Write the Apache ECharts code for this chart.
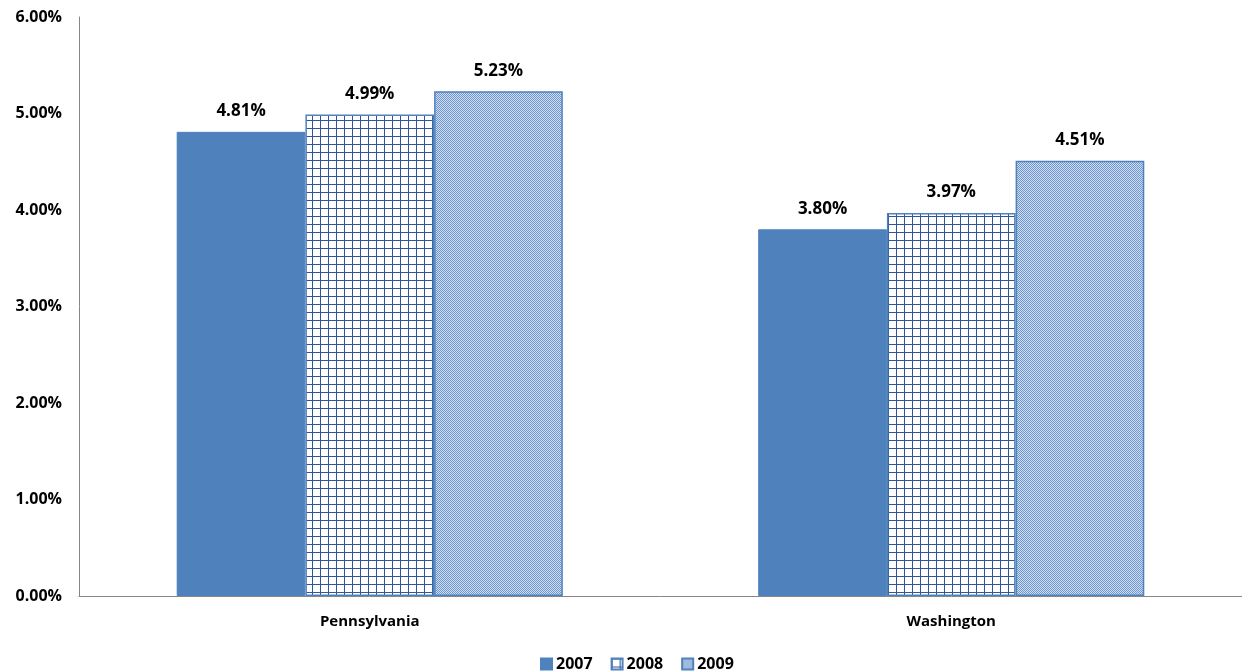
<!DOCTYPE html>
<html>
<head>
<meta charset="utf-8">
<script src="https://cdn.jsdelivr.net/npm/echarts@6/dist/echarts.min.js"></script>
<style>
html, body { margin: 0; padding: 0; background: #fff; }
#main { width: 1242px; height: 672px; }
</style>
</head>
<body>
<div id="main"></div>
<script>
// 数据
var categories = ['Pennsylvania', 'Washington'];
var years = ['2007', '2008', '2009'];
var v2007 = [4.81, 3.80];
var v2008 = [4.99, 3.97];
var v2009 = [5.23, 4.51];

var FONT = '"Open Sans"';

// 2008 方格图案
function gridPattern() {
	var c = document.createElement('canvas');
	c.width = 8; c.height = 8;
	var ctx = c.getContext('2d');
	ctx.fillStyle = '#ffffff';
	ctx.fillRect(0, 0, 8, 8);
	ctx.fillStyle = '#2F5597';
	ctx.fillRect(0, 0, 8, 1);
	ctx.fillRect(0, 0, 1, 8);
	return c;
}
// 2009 细格纹图案
function checkPattern() {
	var c = document.createElement('canvas');
	c.width = 2; c.height = 2;
	var ctx = c.getContext('2d');
	ctx.fillStyle = '#D0DDF0';
	ctx.fillRect(0, 0, 2, 2);
	ctx.fillStyle = '#7096CE';
	ctx.fillRect(0, 0, 1, 1);
	ctx.fillRect(1, 1, 1, 1);
	return c;
}

var myChart = echarts.init(document.getElementById('main'));
var labelCfg = {
	show: true,
	position: 'top',
	distance: 12,
	color: '#000',
	fontWeight: 'bold',
	fontSize: 17,
	fontFamily: FONT,
	formatter: function (p) { return p.value.toFixed(2) + '%'; }
};

var option = {
	animation: false,
	legend: {
		data: years,
		top: 651,
		left: 535,
		icon: 'rect',
		itemWidth: 11,
		itemHeight: 11,
		itemGap: 18,
		textStyle: { fontSize: 16, fontWeight: 'bold', fontFamily: FONT, color: '#000', padding: [0, 0, 0, -1] }
	},
	grid: {
		left: 79,
		right: 0,
		top: 17,
		bottom: 76
	},
	xAxis: {
		type: 'category',
		data: categories,
		axisLine: { lineStyle: { color: '#868686' } },
		axisTick: { show: false },
		axisLabel: { color: '#000', fontWeight: 'bold', fontSize: 15, fontFamily: FONT, margin: 18 }
	},
	yAxis: {
		type: 'value',
		min: 0,
		max: 6,
		interval: 1,
		axisLine: { show: true, lineStyle: { color: '#868686' } },
		axisTick: { show: false },
		splitLine: { show: false },
		axisLabel: {
			color: '#000', fontWeight: 'bold', fontSize: 16, fontFamily: FONT, margin: 17,
			formatter: function (v) { return v.toFixed(2) + '%'; }
		}
	},
	series: [{
			name: '2007',
			type: 'bar',
			barGap: '0%',
			barCategoryGap: '33.6%',
			data: v2007,
			itemStyle: { color: '#4F81BD', borderColor: '#4F81BD', borderWidth: 1 },
			label: labelCfg
		},
		{
			name: '2008',
			type: 'bar',
			data: v2008,
			itemStyle: { color: { image: gridPattern(), repeat: 'repeat' }, borderColor: '#4F81BD', borderWidth: 1.5 },
			label: labelCfg
		},
		{
			name: '2009',
			type: 'bar',
			data: v2009,
			itemStyle: { color: { image: checkPattern(), repeat: 'repeat' }, borderColor: '#4F81BD', borderWidth: 1.5 },
			label: labelCfg
		}
	]
};

myChart.setOption(option);
</script>
</body>
</html>
